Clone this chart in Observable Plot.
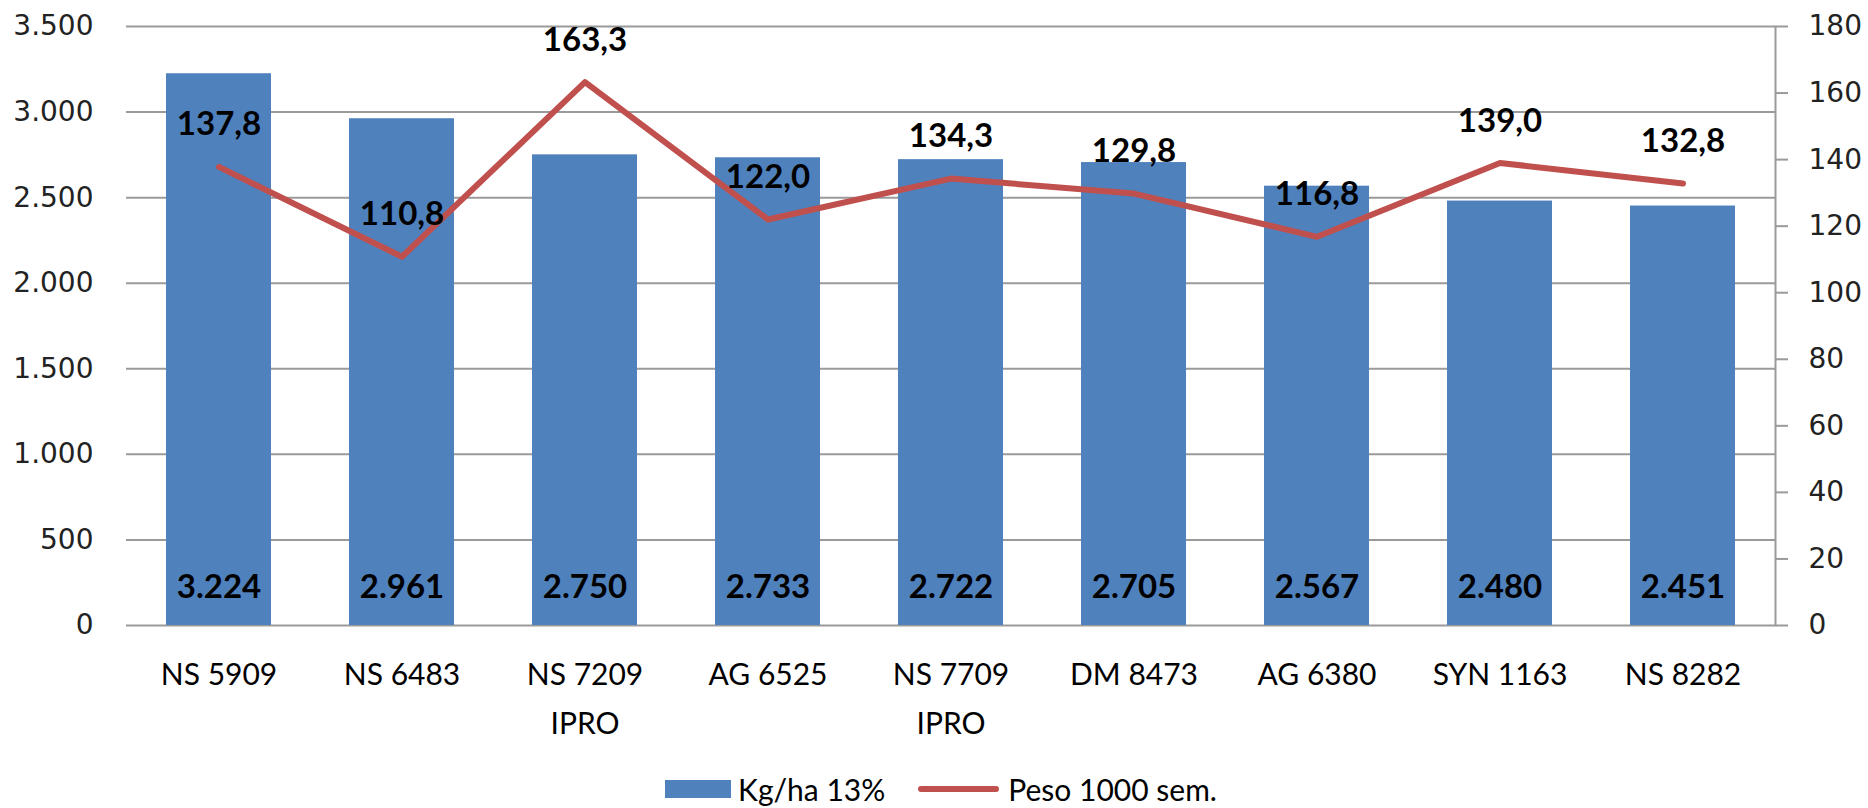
<!DOCTYPE html>
<html>
<head>
<meta charset="utf-8">
<script src="https://cdn.jsdelivr.net/npm/d3@7"></script>
<script src="https://cdn.jsdelivr.net/npm/@observablehq/plot@0.6"></script>
<style>
  html, body { margin: 0; padding: 0; background: #fff; }
  #chart { width: 1868px; }
  .legend { height: 48px; margin-top: 5px; display: flex; align-items: center; justify-content: center; padding-left: 14px;
            font-family: Lato, "Liberation Sans", sans-serif; font-size: 30px; color: #000; }
  .legend .item { display: flex; align-items: center; }
  .legend .sw-bar { width: 66px; height: 18px; background: #4F81BD; margin-right: 7px; }
  .legend .sw-line { width: 81px; height: 6px; border-radius: 3px; background: #C0504D; margin-right: 9px; margin-left: 33px; }
</style>
</head>
<body>
<div id="chart"></div>
<div class="legend">
  <div class="item"><span class="sw-bar"></span><span>Kg/ha 13%</span></div>
  <div class="item"><span class="sw-line"></span><span>Peso 1000 sem.</span></div>
</div>
<script>
const categories = ["NS 5909", "NS 6483", "NS 7209\nIPRO", "AG 6525", "NS 7709\nIPRO", "DM 8473", "AG 6380", "SYN 1163", "NS 8282"];
const yieldKgHa = [3224, 2961, 2750, 2733, 2722, 2705, 2567, 2480, 2451];
const peso1000 = [137.8, 110.8, 163.3, 122.0, 134.3, 129.8, 116.8, 139.0, 132.8];
const leftTicks = [0, 500, 1000, 1500, 2000, 2500, 3000, 3500];
const rightTicks = [0, 20, 40, 60, 80, 100, 120, 140, 160, 180];
const leftMax = 3500, rightMax = 180;
const k = leftMax / rightMax;

const locale = d3.formatLocale({decimal: ",", thousands: ".", grouping: [3], currency: ["", ""]});
const fmtInt = locale.format(",d");
const fmt1 = locale.format(",.1f");

const rows = categories.map((c, i) => ({cat: c, kg: yieldKgHa[i], peso: peso1000[i], pesoScaled: peso1000[i] * k}));

const axisFont = "DejaVu Sans";

const chart = Plot.plot({
  width: 1868,
  height: 760,
  marginLeft: 126,
  marginRight: 93,
  marginTop: 26,
  marginBottom: 135,
  style: {fontFamily: "Lato, 'Liberation Sans', sans-serif", fontSize: "30px", color: "#000", background: "#fff", overflow: "visible"},
  x: {domain: categories, paddingInner: 0.427, paddingOuter: 0.2135, label: null},
  y: {domain: [0, leftMax], label: null},
  marks: [
    Plot.gridY({ticks: leftTicks, stroke: "#9a9a9a", strokeOpacity: 1, strokeWidth: 2}),
    Plot.barY(rows, {x: "cat", y: "kg", fill: "#4F81BD"}),
    Plot.text(rows, {x: "cat", y: () => 0, text: d => fmtInt(d.kg), dy: -38, fontWeight: "bold", fontSize: 33, fill: "#000"}),
    Plot.line(rows, {x: "cat", y: "pesoScaled", stroke: "#C0504D", strokeWidth: 6, strokeLinejoin: "round"}),
    Plot.text(rows, {x: "cat", y: "pesoScaled", text: d => fmt1(d.peso), dy: -42, fontWeight: "bold", fontSize: 33, fill: "#000"}),
    Plot.frame({anchor: "right", stroke: "#9a9a9a", strokeWidth: 2}),
    Plot.axisY({ticks: leftTicks, tickSize: 0, tickPadding: 33, tickFormat: fmtInt, fontFamily: axisFont, fontSize: 28, fill: "#222", label: null}),
    Plot.axisY({anchor: "right", ticks: rightTicks.map(v => v * k), tickSize: 12, tickPadding: 21, stroke: "#9a9a9a", strokeWidth: 2, tickFormat: d => String(Math.round(d / k)), fontFamily: axisFont, fontSize: 28, fill: "#222", label: null}),
    Plot.axisX({tickSize: 0, tickPadding: 24, lineHeight: 1.65, fontSize: 30, fill: "#000", label: null})
  ]
});
document.getElementById("chart").appendChild(chart);
</script>
</body>
</html>
